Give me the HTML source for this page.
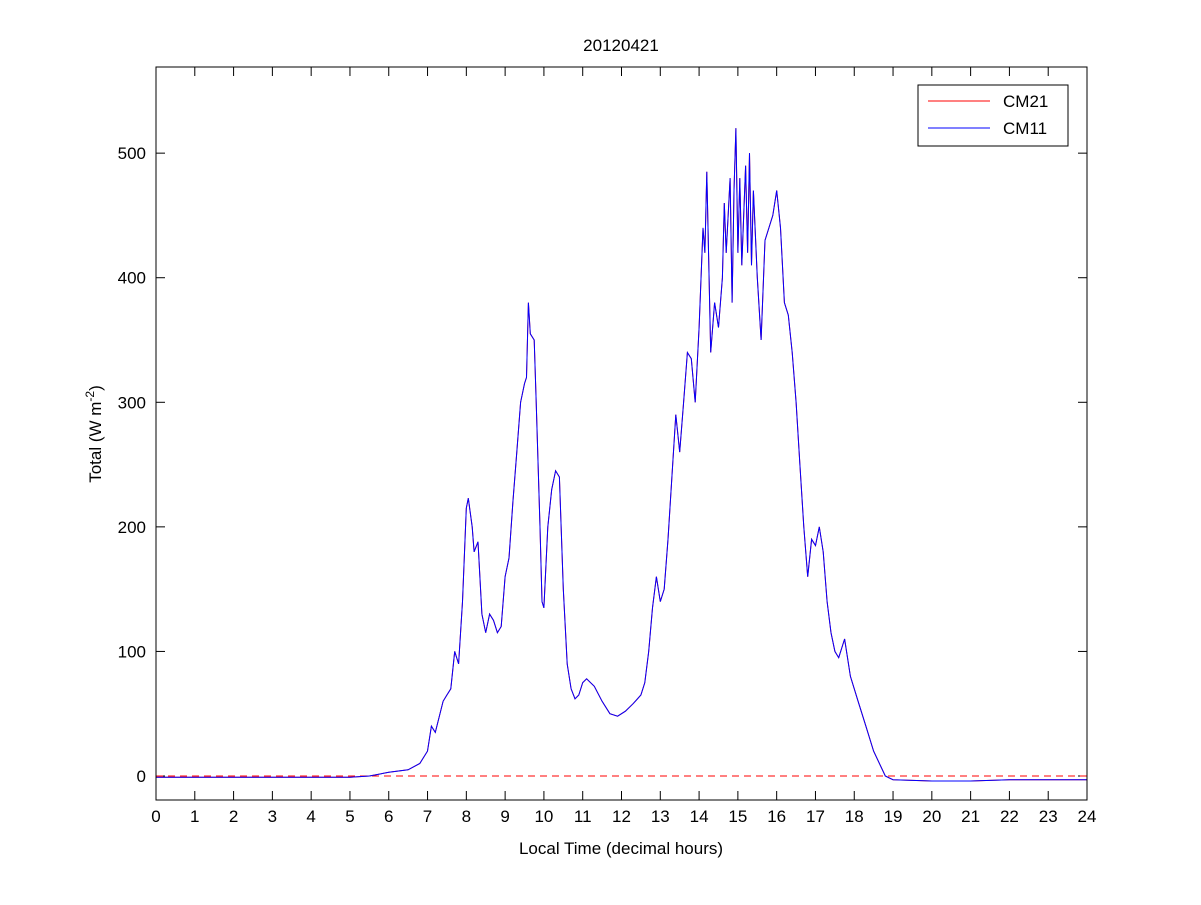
<!DOCTYPE html>
<html><head><meta charset="utf-8"><style>
body{margin:0;background:#fff}
svg text{font-family:"Liberation Sans",Arial,sans-serif;fill:#000}
</style></head><body>
<svg id="s" width="1201" height="900" xmlns="http://www.w3.org/2000/svg">
<rect width="1201" height="900" fill="#fff"/>
<text x="621" y="51" font-size="17" text-anchor="middle">20120421</text>
<text x="621" y="854" font-size="17" text-anchor="middle">Local Time (decimal hours)</text>
<text transform="translate(101,434) rotate(-90)" font-size="17" text-anchor="middle">Total (W m<tspan dy="-7" font-size="12">-2</tspan><tspan dy="7">)</tspan></text>
<g id="g"></g>
<rect x="156" y="67" width="931" height="733" fill="none" stroke="#000" stroke-width="1"/>
<rect x="918" y="85" width="150" height="61" fill="#fff" stroke="#000"/>
<line x1="928" y1="101" x2="990" y2="101" stroke="#f00"/>
<line x1="928" y1="128" x2="990" y2="128" stroke="#00f"/>
<text x="1003" y="107" font-size="17">CM21</text>
<text x="1003" y="134" font-size="17">CM11</text>
</svg>
<script>
var g=document.getElementById('g'),h='';
function X(t){return 156+t*931/24}
function Y(v){return 776-v*1.2457}
for(var i=0;i<=24;i++){var x=X(i);
h+='<line x1="'+x+'" y1="800" x2="'+x+'" y2="791" stroke="#000"/><line x1="'+x+'" y1="67" x2="'+x+'" y2="76" stroke="#000"/>';
h+='<text x="'+x+'" y="822" font-size="17" text-anchor="middle">'+i+'</text>';}
for(var v=0;v<=500;v+=100){var y=Y(v);
h+='<line x1="156" y1="'+y+'" x2="165" y2="'+y+'" stroke="#000"/><line x1="1087" y1="'+y+'" x2="1078" y2="'+y+'" stroke="#000"/>';
h+='<text x="146" y="'+(y+6)+'" font-size="17" text-anchor="end">'+v+'</text>';}
h+='<line x1="156" y1="'+Y(0)+'" x2="1087" y2="'+Y(0)+'" stroke="#f00" stroke-dasharray="7,5"/>';
var k=[[0,-1],[5,-1],[5.5,0],[6,3],[6.5,5],[6.8,10],[7,20],[7.1,40],[7.2,35],[7.4,60],[7.5,65],[7.6,70],[7.7,100],[7.8,90],[7.9,140],[8,215],[8.05,223],[8.15,200],[8.2,180],[8.3,188],[8.4,130],[8.5,115],[8.6,130],[8.7,125],[8.8,115],[8.9,120],[9,160],[9.1,175],[9.2,220],[9.3,260],[9.4,300],[9.5,315],[9.55,320],[9.6,380],[9.65,355],[9.75,350],[9.8,300],[9.9,200],[9.95,140],[10,135],[10.1,200],[10.2,230],[10.3,245],[10.4,240],[10.5,150],[10.6,90],[10.7,70],[10.8,62],[10.9,65],[11,75],[11.1,78],[11.3,72],[11.5,60],[11.7,50],[11.9,48],[12.1,52],[12.3,58],[12.5,65],[12.6,75],[12.7,100],[12.8,135],[12.9,160],[13,140],[13.1,150],[13.2,190],[13.3,240],[13.4,290],[13.5,260],[13.6,300],[13.7,340],[13.8,335],[13.9,300],[14,360],[14.1,440],[14.15,420],[14.2,485],[14.3,340],[14.4,380],[14.5,360],[14.6,400],[14.65,460],[14.7,420],[14.8,480],[14.85,380],[14.9,470],[14.95,520],[15,420],[15.05,480],[15.1,410],[15.2,490],[15.25,420],[15.3,500],[15.35,410],[15.4,470],[15.5,400],[15.6,350],[15.7,430],[15.8,440],[15.9,450],[16,470],[16.1,440],[16.2,380],[16.3,370],[16.4,340],[16.5,300],[16.6,250],[16.7,200],[16.8,160],[16.9,190],[17,185],[17.1,200],[17.2,180],[17.3,140],[17.4,115],[17.5,100],[17.6,95],[17.75,110],[17.9,80],[18.1,60],[18.3,40],[18.5,20],[18.8,0],[19,-3],[20,-4],[21,-4],[22,-3],[23,-3],[24,-3]];
var p=k.map(function(a){return X(a[0]).toFixed(1)+','+Y(a[1]).toFixed(1)}).join(' ');
h+='<polyline points="'+p+'" fill="none" stroke="#f00" stroke-width="1"/>';
h+='<polyline points="'+p+'" fill="none" stroke="#00f" stroke-width="1"/>';
g.innerHTML=h;
</script>
</body></html>
